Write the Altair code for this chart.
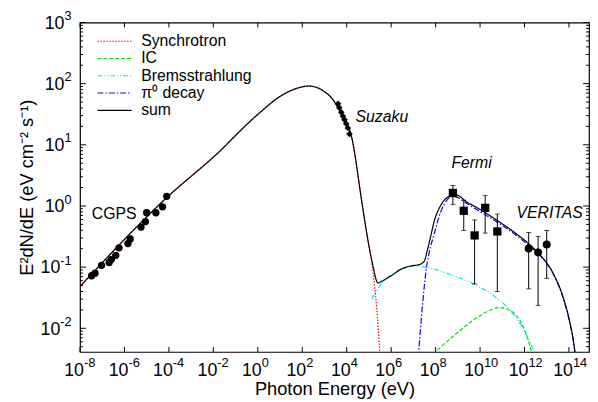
import altair as alt
import pandas as pd

# ---------------- data ----------------
# model curves: log10(E / eV) and E^2 dN/dE (eV cm^-2 s^-1)
sum_logE = [-8.0, -4.07, -1.70, -0.51, 0.23, 0.97, 1.71, 2.30, 2.90, 3.34, 3.78, 4.23, 4.67, 4.90,
            5.15, 5.41, 5.63, 6.00, 6.45, 6.89, 7.26, 7.49, 7.63, 7.78, 7.93, 8.23, 8.52, 8.90,
            9.41, 10.00, 10.74, 11.49, 12.23, 12.68, 13.27, 13.71, 14.00, 14.27, 14.31]
sum_F = [0.0483, 1.40, 7.92, 21.3, 37.2, 60.8, 82.8, 91.5, 78.0, 57.1, 30.9, 13.0, 1.24, 0.36,
         0.119, 0.055, 0.060, 0.0722, 0.0925, 0.1045, 0.110, 0.125, 0.19, 0.32, 0.55, 1.02, 1.37, 1.53,
         1.16, 0.879, 0.590, 0.383, 0.234, 0.161, 0.0818, 0.0344, 0.0145, 0.00406, 0.003]

sync_logE = [-8.0, -4.07, -1.70, -0.51, 0.23, 0.97, 1.71, 2.30, 2.90, 3.34, 3.78, 4.23, 4.67, 4.90,
             5.19, 5.34, 5.49, 5.52]
sync_F = [0.0483, 1.40, 7.92, 21.3, 37.2, 60.8, 82.8, 91.5, 78.0, 57.1, 30.9, 13.0, 1.24, 0.36,
          0.0818, 0.0237, 0.0042, 0.003]

ic_logE = [7.88, 8.82, 9.71, 10.45, 10.87, 11.49, 11.93, 12.23, 12.36]
ic_F = [0.0038, 0.00757, 0.0137, 0.0197, 0.0218, 0.0181, 0.0108, 0.00538, 0.0035]

brem_logE = [5.12, 5.56, 6.16, 7.04, 7.93, 8.82, 9.71, 10.60, 11.34, 11.93, 12.30, 12.50]
brem_F = [0.0299, 0.0531, 0.0818, 0.1045, 0.0925, 0.0722, 0.0531, 0.0344, 0.0199, 0.0100, 0.00538, 0.0035]

pi_logE = [7.22, 7.41, 7.56, 7.71, 7.93, 8.23, 8.52, 8.82, 9.41, 10.00, 10.74, 11.49, 12.23, 12.68,
           13.27, 13.71, 14.00, 14.27, 14.31]
pi_F = [0.0033, 0.0237, 0.0818, 0.172, 0.34, 0.80, 1.26, 1.44, 1.10, 0.804, 0.554, 0.360, 0.219, 0.157,
        0.080, 0.0337, 0.0142, 0.004, 0.003]

# observations
cgps_logE = [-7.476, -7.324, -7.031, -6.689, -6.587, -6.391, -6.244, -5.844, -5.742, -5.253, -5.058,
             -5.0, -4.587, -4.289, -4.098]
cgps_F = [0.0722, 0.0797, 0.107, 0.119, 0.134, 0.156, 0.207, 0.243, 0.289, 0.451, 0.555,
          0.775, 0.775, 0.968, 1.44]

suzaku_logE = [3.609, 3.667, 3.756, 3.831, 3.902, 3.978, 4.053, 4.124]
suzaku_F = [47.0, 40.5, 34.0, 29.3, 25.6, 22.1, 18.8, 15.0]

fermi_logE = [8.778, 9.267, 9.756, 10.231, 10.778]
fermi_F = [1.63, 0.834, 0.330, 0.931, 0.383]
fermi_lo = [1.06, 0.397, 0.0531, 0.360, 0.0399]
fermi_hi = [2.16, 1.24, 0.590, 1.49, 0.738]

veritas_logE = [12.187, 12.613, 13.0]
veritas_F = [0.201, 0.174, 0.234]
veritas_lo = [0.0441, 0.0237, 0.0655]
veritas_hi = [0.369, 0.318, 0.397]

series_names = ["Synchrotron", "IC", "Bremsstrahlung", "π⁰ decay", "sum"]
series_colors = ["#ff0000", "#00e000", "#00e8e8", "#0000ff", "#000000"]
series_dash = [[1.5, 1.5], [4, 2], [5, 2, 1, 2, 1, 2], [6, 2, 1.5, 2], [1, 0]]
series_width = [1.2, 1.2, 1.2, 1.2, 1.4]

xtick_vals = [1e-8, 1e-6, 1e-4, 1e-2, 1e0, 1e2, 1e4, 1e6, 1e8, 1e10, 1e12, 1e14]
xtick_exps = ["-8", "-6", "-4", "-2", "0", "2", "4", "6", "8", "10", "12", "14"]
ytick_vals = [1e-2, 1e-1, 1e0, 1e1, 1e2, 1e3]
ytick_exps = ["-2", "-1", "0", "1", "2", "3"]
yminor_vals = [k * 10.0 ** e for e in range(-3, 3) for k in range(2, 10) if 0.0041 <= k * 10.0 ** e <= 1000]

annot_normal = pd.DataFrame({"E": [10 ** -7.47], "F": [0.748], "t": ["CGPS"]})
annot_italic = pd.DataFrame({"E": [10 ** 4.4, 10 ** 8.71, 10 ** 11.64],
                             "F": [28.5, 4.94, 0.767], "t": ["Suzaku", "Fermi", "VERITAS"]})

# ---------------- build ----------------
W, H = 516, 334
FONT = "Liberation Sans"
BASE_FS, EXP_FS = 18, 13
xs = alt.Scale(type="log", domain=[1e-8, 8e14], nice=False)
ys = alt.Scale(type="log", domain=[0.0041, 1000], nice=False)

rows = []
for name, le, ff in zip(series_names,
                        [sync_logE, ic_logE, brem_logE, pi_logE, sum_logE],
                        [sync_F, ic_F, brem_F, pi_F, sum_F]):
    for i, (a, b) in enumerate(zip(le, ff)):
        rows.append({"series": name, "E": 10 ** a, "F": b, "i": i})
model = pd.DataFrame(rows)

xaxis = alt.Axis(values=xtick_vals, labels=False, ticks=False, domain=False, grid=False,
                 title="Photon Energy (eV)", titleFont=FONT, titleFontSize=18.5,
                 titleFontWeight="normal", titleColor="black", titleY=43, titleBaseline="alphabetic")
yaxis = alt.Axis(values=ytick_vals, labels=False, ticks=False, domain=False, grid=False,
                 title="E²dN/dE (eV cm⁻² s⁻¹)", titleFont=FONT, titleFontSize=18.5,
                 titleFontWeight="normal", titleColor="black", titleX=-48, titleY=H / 2,
                 titleBaseline="alphabetic", titleAngle=270)

legend = alt.Legend(title=None, orient="none", legendX=17, legendY=11, symbolType="stroke",
                    symbolSize=1200, clipHeight=16, rowPadding=1.5, labelFontSize=16, labelFont=FONT,
                    labelOffset=9, symbolStrokeWidth=1.3, padding=0, labelColor="black")

lines = alt.Chart(model).mark_line(clip=True, interpolate="monotone").encode(
    x=alt.X("E:Q", scale=xs, axis=xaxis),
    y=alt.Y("F:Q", scale=ys, axis=yaxis),
    color=alt.Color("series:N", scale=alt.Scale(domain=series_names, range=series_colors), legend=legend),
    strokeDash=alt.StrokeDash("series:N", scale=alt.Scale(domain=series_names, range=series_dash), legend=legend),
    strokeWidth=alt.StrokeWidth("series:N", scale=alt.Scale(domain=series_names, range=series_width), legend=None),
    order="i:Q",
)


def pts(le, ff, shape, size):
    df = pd.DataFrame({"E": [10 ** a for a in le], "F": ff})
    return alt.Chart(df).mark_point(shape=shape, size=size, filled=True, color="black", opacity=1).encode(
        x=alt.X("E:Q", scale=xs), y=alt.Y("F:Q", scale=ys))


def errs(le, lo, hi):
    df = pd.DataFrame({"E": [10 ** a for a in le], "F": lo, "hi": hi})
    base = alt.Chart(df)
    bar = base.mark_rule(color="black", strokeWidth=1).encode(
        x=alt.X("E:Q", scale=xs), y=alt.Y("F:Q", scale=ys), y2="hi:Q")
    cap_lo = base.mark_tick(orient="horizontal", size=5, thickness=1, color="black").encode(
        x=alt.X("E:Q", scale=xs), y=alt.Y("F:Q", scale=ys))
    cap_hi = base.mark_tick(orient="horizontal", size=5, thickness=1, color="black").encode(
        x=alt.X("E:Q", scale=xs), y=alt.Y("hi:Q", scale=ys))
    return [bar, cap_lo, cap_hi]


xt = pd.DataFrame({"E": xtick_vals, "e": xtick_exps, "b": ["10"] * len(xtick_vals)})
ytm = pd.DataFrame({"F": ytick_vals, "e": ytick_exps, "b": ["10"] * len(ytick_vals)})
ytn = pd.DataFrame({"F": yminor_vals})
ticks = [
    alt.Chart(xt).mark_rule(color="black").encode(x=alt.X("E:Q", scale=xs), y=alt.value(H), y2=alt.value(H - 5)),
    alt.Chart(xt).mark_rule(color="black").encode(x=alt.X("E:Q", scale=xs), y=alt.value(0), y2=alt.value(5)),
    alt.Chart(ytm).mark_rule(color="black").encode(y=alt.Y("F:Q", scale=ys), x=alt.value(0), x2=alt.value(6)),
    alt.Chart(ytm).mark_rule(color="black").encode(y=alt.Y("F:Q", scale=ys), x=alt.value(W), x2=alt.value(W - 6)),
    alt.Chart(ytn).mark_rule(color="black").encode(y=alt.Y("F:Q", scale=ys), x=alt.value(0), x2=alt.value(3)),
    alt.Chart(ytn).mark_rule(color="black").encode(y=alt.Y("F:Q", scale=ys), x=alt.value(W), x2=alt.value(W - 3)),
]

# tick labels: "10" with a raised, smaller exponent
tick_labels = [
    alt.Chart(xt).mark_text(align="right", baseline="alphabetic", font=FONT, fontSize=BASE_FS, dx=4,
                            color="black").encode(x=alt.X("E:Q", scale=xs), y=alt.value(H + 24), text="b:N"),
    alt.Chart(xt).mark_text(align="left", baseline="alphabetic", font=FONT, fontSize=EXP_FS, dx=4,
                            color="black").encode(x=alt.X("E:Q", scale=xs), y=alt.value(H + 15), text="e:N"),
    alt.Chart(ytm).mark_text(align="right", baseline="alphabetic", font=FONT, fontSize=EXP_FS, dy=-2.5,
                             color="black").encode(y=alt.Y("F:Q", scale=ys), x=alt.value(-8.5), text="e:N"),
    alt.Chart(ytm).transform_filter("datum.F < 0.5").mark_text(
        align="right", baseline="alphabetic", font=FONT, fontSize=BASE_FS, dy=6.4, dx=-11.5,
        color="black").encode(y=alt.Y("F:Q", scale=ys), x=alt.value(-8.5), text="b:N"),
    alt.Chart(ytm).transform_filter("datum.F > 0.5").mark_text(
        align="right", baseline="alphabetic", font=FONT, fontSize=BASE_FS, dy=6.4, dx=-7.3,
        color="black").encode(y=alt.Y("F:Q", scale=ys), x=alt.value(-8.5), text="b:N"),
]

txt1 = alt.Chart(annot_normal).mark_text(align="left", baseline="middle", font=FONT, fontSize=16,
                                         color="black").encode(
    x=alt.X("E:Q", scale=xs), y=alt.Y("F:Q", scale=ys), text="t:N")
txt2 = alt.Chart(annot_italic).mark_text(align="left", baseline="middle", font=FONT, fontSize=16,
                                         fontStyle="italic", color="black").encode(
    x=alt.X("E:Q", scale=xs), y=alt.Y("F:Q", scale=ys), text="t:N")

layers = [lines] + ticks + tick_labels + errs(fermi_logE, fermi_lo, fermi_hi) + \
    errs(veritas_logE, veritas_lo, veritas_hi) + [
    pts(cgps_logE, cgps_F, "circle", 55),
    pts(suzaku_logE, suzaku_F, "diamond", 45),
    pts(fermi_logE, fermi_F, "square", 70),
    pts(veritas_logE, veritas_F, "circle", 65),
    txt1, txt2,
]

chart = alt.layer(*layers).properties(
    width=W, height=H,
    padding={"left": 73, "top": 12, "right": 1, "bottom": 46},
    autosize=alt.AutoSizeParams(type="none"),
    background="white",
).configure_view(stroke="black", strokeWidth=1.2)

chart.save("out.html", embed_options={"renderer": "svg", "actions": False})
